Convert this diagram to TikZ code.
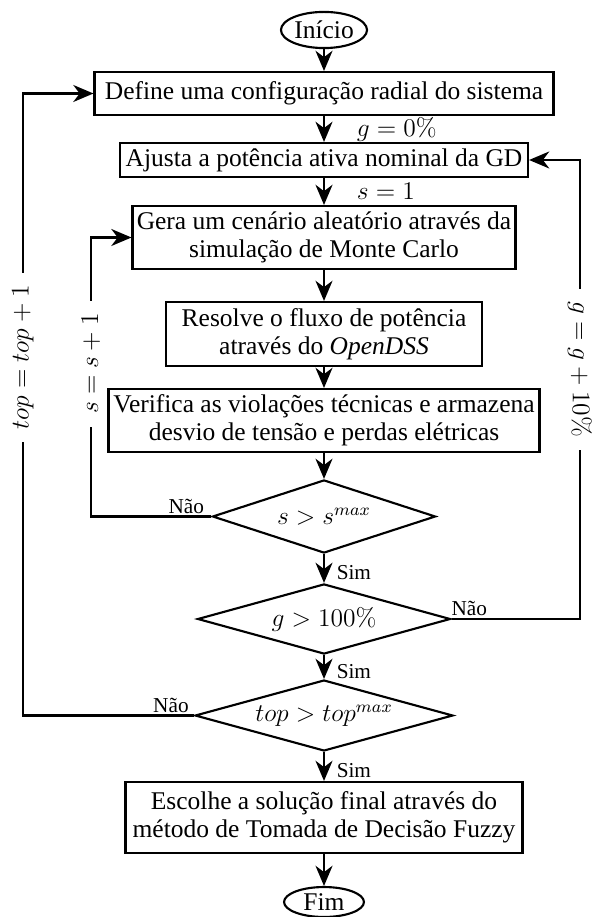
\documentclass[tikz,border=0pt]{standalone}
\usepackage[no-math]{fontspec}
\setmainfont{Liberation Serif}
\usetikzlibrary{shapes.geometric,arrows.meta}

\begin{document}
\begin{tikzpicture}[x=0.4706pt, y=-0.4706pt,
  block/.style={rectangle, draw, line width=1pt, inner sep=0pt, align=center},
  decision/.style={diamond, draw, line width=1pt, aspect=3, inner sep=0pt},
  terminal/.style={ellipse, draw, line width=1pt, inner sep=0pt},
  flow/.style={line width=1pt, -{Stealth[length=9.5pt, width=8pt, inset=3pt]}},
  answer/.style={font=\fontsize{10}{12}\selectfont, inner sep=1pt},
  yes/.style={answer, right=4.5pt, yshift=-2pt},
  update/.style={fill=white, inner xsep=6pt, inner ysep=1pt}]
  \fontsize{12}{13}\selectfont
  \useasboundingbox (0,0) rectangle (593,917);

    \node[terminal, minimum width=40.5pt, minimum height=17pt] (ini) at (324,30) {Início};
    \node[block, minimum width=216pt, minimum height=20.2pt] (b1) at (324,93.5) {Define uma configuração radial do sistema};
    \node[block, minimum width=192pt, minimum height=16pt] (b2) at (324,160) {Ajusta a potência ativa nominal da GD};
    \node[block, minimum width=180.2pt, minimum height=29.6pt] (b3) at (324,237.5) {Gera um cenário aleatório através da\\simulação de Monte Carlo};
    \node[block, minimum width=148.7pt, minimum height=30.1pt] (b4) at (324,334) {Resolve o fluxo de potência\\através do \textit{OpenDSS}};
    \node[block, minimum width=202.8pt, minimum height=29.6pt] (b5) at (324,420.5) {Verifica as violações técnicas e armazena\\desvio de tensão e perdas elétricas};
    \node[decision, minimum width=105pt, minimum height=34.4pt] (d1) at (324,516.5) {$s > s^{max}$};
    \node[decision, minimum width=119pt, minimum height=33pt] (d2) at (324,619) {$g > 100\%$};
    \node[decision, minimum width=121.4pt, minimum height=33.4pt] (d3) at (324,715.5) {$top > top^{max}$};
    \node[block, minimum width=186.8pt, minimum height=33.4pt] (b6) at (324,817.5) {Escolhe a solução final através do\\método de Tomada de Decisão Fuzzy};
    \node[terminal, minimum width=37.6pt, minimum height=14.1pt] (fim) at (324,902) {Fim};

    % loop lines
    \coordinate (sl) at (91,0);
    \coordinate (gl) at (580,0);
    \coordinate (tl) at (23,0);

    \draw[flow] (ini) -- (b1);
    \draw[flow] (b1) -- node[right=11pt] {$g=0\%$} (b2);
    \draw[flow] (b2) -- node[right=11pt] {$s=1$} (b3);
    \draw[flow] (b3) -- (b4);
    \draw[flow] (b4) -- (b5);
    \draw[flow] (b5) -- (d1);
    \draw[flow] (d1) -- node[yes] {Sim} (d2);
    \draw[flow] (d2) -- node[yes] {Sim} (d3);
    \draw[flow] (d3) -- node[yes] {Sim} (b6);
    \draw[flow] (b6) -- (fim);

    \draw[flow] (d1.west) node[answer, above left, xshift=-2pt] {Não} -- (d1.west -| sl) |- node[update, rotate=90, pos=0.274] {$s=s+1$} (b3.west);
    \draw[flow] (d2.east) node[answer, above right, xshift=-1.5pt] {Não} -- (d2.east -| gl) |- node[update, rotate=-90, pos=0.272] {$g=g+10\%$} (b2.east);
    \draw[flow] (d3.west) node[answer, above left, xshift=-1pt] {Não} -- (d3.west -| tl) |- node[update, rotate=90, pos=0.288] {$top=top+1$} (b1.west);

\end{tikzpicture}
\end{document}
